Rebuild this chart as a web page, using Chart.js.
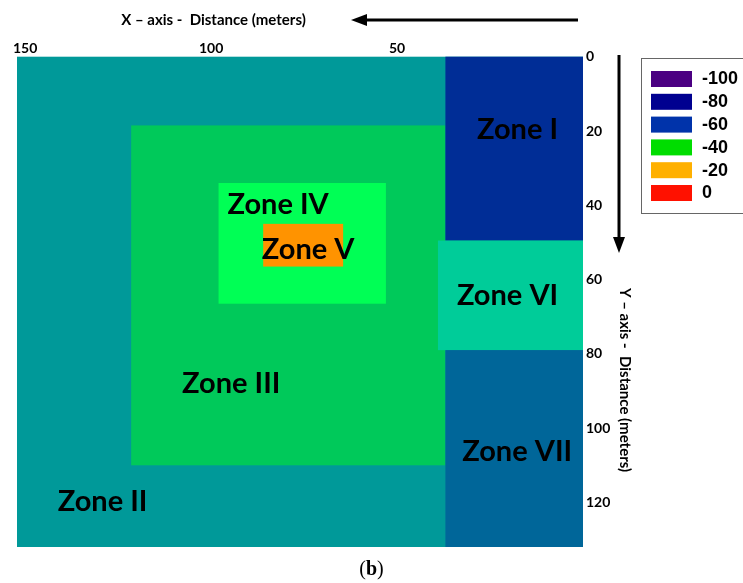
<!DOCTYPE html>
<html>
<head>
<meta charset="utf-8">
<script src="https://cdn.jsdelivr.net/npm/chart.js@4.4.1/dist/chart.umd.min.js"></script>
<style>
  body { margin: 0; background: #fff; }
</style>
</head>
<body>
<canvas id="zone-map" width="743" height="583"></canvas>
<script>
// zones, in meters: x measured leftwards from the right edge, y downwards from the top
const zoneNames = ['Zone II', 'Zone III', 'Zone IV', 'Zone V', 'Zone I', 'Zone VI', 'Zone VII'];
const zoneX = [[0, 152.2], [37, 121.5], [53, 98], [64.5, 86], [0, 37], [0, 39], [0, 37]];
const zoneY = [[0, 132], [18.5, 110], [34, 66.5], [45, 56.5], [0, 49.5], [49.5, 79], [79, 132]];
const zoneColors = ['#009999', '#00c95a', '#00ff55', '#ff9300', '#002d96', '#00cc99', '#006699'];
// where each zone's name is written (meters)
const labelX = [129.2, 94.6, 82, 73.9, 17.6, 20.3, 17.7];
const labelY = [119.8, 87.9, 39.9, 52, 19.7, 64.2, 106.4];

const xTicks = [150, 100, 50];
const yTicks = [0, 20, 40, 60, 80, 100, 120];

const legendValues = ['-100', '-80', '-60', '-40', '-20', '0'];
const legendColors = ['#4b0082', '#000090', '#0033aa', '#00dd00', '#ffb000', '#ff1100'];

const zonesPlugin = {
  id: 'zones',
  beforeDatasetsDraw(chart) {
    const { ctx, scales: { x, y } } = chart;
    ctx.save();
    zoneNames.forEach((name, i) => {
      const x1 = x.getPixelForValue(zoneX[i][0]);
      const x2 = x.getPixelForValue(zoneX[i][1]);
      const y1 = y.getPixelForValue(zoneY[i][0]);
      const y2 = y.getPixelForValue(zoneY[i][1]);
      ctx.fillStyle = zoneColors[i];
      ctx.fillRect(Math.min(x1, x2), Math.min(y1, y2), Math.abs(x2 - x1), Math.abs(y2 - y1));
    });
    ctx.fillStyle = '#000';
    ctx.font = 'bold 29px Lato';
    ctx.textAlign = 'center';
    ctx.textBaseline = 'middle';
    zoneNames.forEach((name, i) => {
      ctx.fillText(name, x.getPixelForValue(labelX[i]), y.getPixelForValue(labelY[i]));
    });
    ctx.restore();
  }
};

function arrow(ctx, x1, y1, x2, y2) {
  const a = Math.atan2(y2 - y1, x2 - x1);
  const len = 16, half = 6;
  ctx.beginPath();
  ctx.moveTo(x1, y1);
  ctx.lineTo(x2 - Math.cos(a) * (len - 2), y2 - Math.sin(a) * (len - 2));
  ctx.stroke();
  ctx.beginPath();
  ctx.moveTo(x2, y2);
  ctx.lineTo(x2 - Math.cos(a) * len - Math.sin(a) * half, y2 - Math.sin(a) * len + Math.cos(a) * half);
  ctx.lineTo(x2 - Math.cos(a) * len + Math.sin(a) * half, y2 - Math.sin(a) * len - Math.cos(a) * half);
  ctx.closePath();
  ctx.fill();
}

const decorPlugin = {
  id: 'decor',
  afterDraw(chart) {
    const ctx = chart.ctx;
    ctx.save();
    ctx.fillStyle = '#000';
    ctx.strokeStyle = '#000';
    ctx.lineWidth = 3;

    // axis titles and direction arrows
    ctx.font = 'bold 15px Lato';
    ctx.textAlign = 'center';
    ctx.textBaseline = 'middle';
    ctx.fillText('X \u2013 axis -  Distance (meters)', 213.5, 20);
    arrow(ctx, 578, 20, 351, 20);
    arrow(ctx, 619, 55, 619, 253);
    ctx.save();
    ctx.translate(625, 380);
    ctx.rotate(Math.PI / 2);
    ctx.fillText('Y \u2013 axis -  Distance (meters)', 0, 0);
    ctx.restore();

    // colour legend
    ctx.lineWidth = 1;
    ctx.strokeStyle = '#666';
    ctx.strokeRect(641.5, 58.5, 110, 155);
    ctx.font = 'bold 18px "Liberation Sans"';
    ctx.textAlign = 'left';
    legendValues.forEach((v, i) => {
      const top = 71 + i * 22.8;
      ctx.fillStyle = legendColors[i];
      ctx.fillRect(651, top, 41, 16);
      ctx.fillStyle = '#000';
      ctx.fillText(v, 702, top + 8.5);
    });

    // panel caption
    ctx.textAlign = 'left';
    ctx.font = '20px "Liberation Serif"';
    const w1 = ctx.measureText('(').width;
    ctx.font = 'bold 20px "Liberation Serif"';
    const w2 = ctx.measureText('b').width;
    ctx.font = '20px "Liberation Serif"';
    const w3 = ctx.measureText(')').width;
    let cx = 371.5 - (w1 + w2 + w3) / 2;
    ctx.fillText('(', cx, 570);
    ctx.font = 'bold 20px "Liberation Serif"';
    ctx.fillText('b', cx + w1, 570);
    ctx.font = '20px "Liberation Serif"';
    ctx.fillText(')', cx + w1 + w2, 570);
    ctx.restore();
  }
};

const tickFont = { family: 'Lato', weight: 'bold', size: 14 };

const zoneMap = document.getElementById('zone-map').getContext('2d');
const zoneMapChart = new Chart(zoneMap, {
  type: 'scatter',
  data: { datasets: [] },
  plugins: [zonesPlugin, decorPlugin],
  options: {
    responsive: false,
    animation: false,
    layout: {
      padding: { left: 17, top: 36.7, right: 130, bottom: 36 }
    },
    plugins: {
      legend: { display: false },
      tooltip: { enabled: false }
    },
    scales: {
      x: {
        type: 'linear',
        position: 'top',
        reverse: true,
        min: 0,
        max: 152.2,
        grid: { display: false, drawTicks: false },
        border: { display: false },
        ticks: { font: tickFont, color: '#000', padding: 0, maxRotation: 0, autoSkip: false },
        afterBuildTicks: (scale) => { scale.ticks = xTicks.map(v => ({ value: v })); },
        afterFit: (scale) => { scale.height = 20; }
      },
      y: {
        type: 'linear',
        position: 'right',
        reverse: true,
        min: 0,
        max: 132,
        grid: { display: false, drawTicks: false },
        border: { display: false },
        ticks: { font: tickFont, color: '#000', padding: 3, autoSkip: false },
        afterBuildTicks: (scale) => { scale.ticks = yTicks.map(v => ({ value: v })); },
        afterFit: (scale) => { scale.width = 30; }
      }
    }
  }
});
</script>
</body>
</html>
